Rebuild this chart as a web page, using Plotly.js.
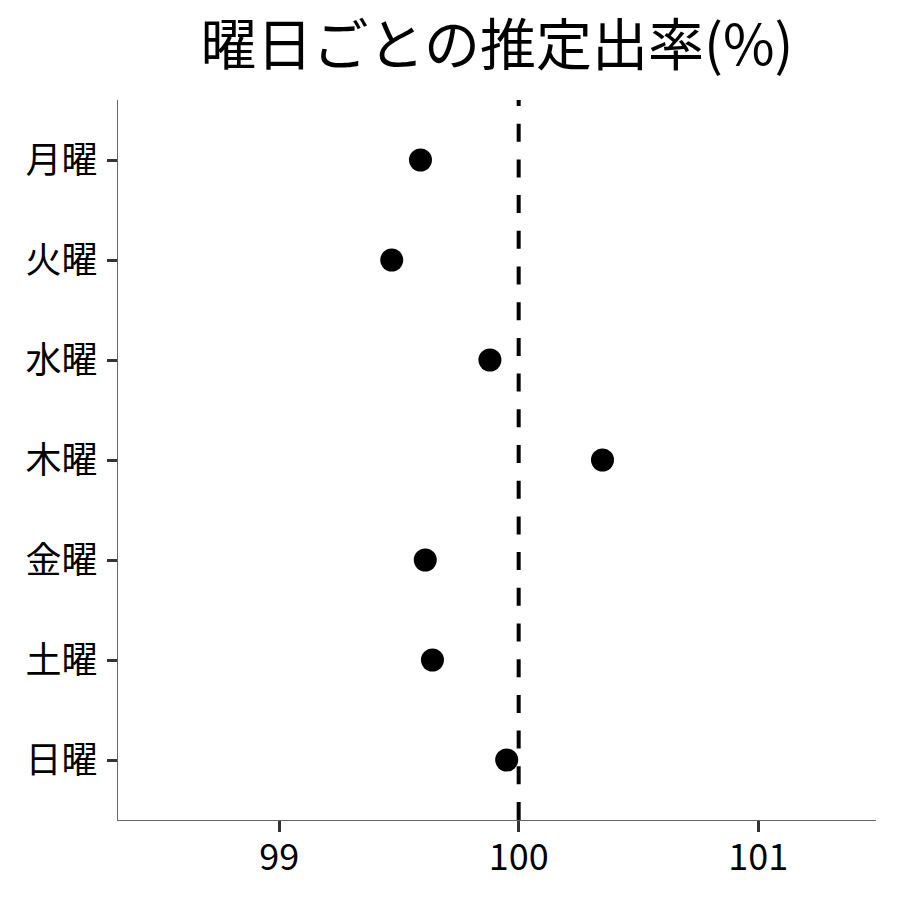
<!DOCTYPE html>
<html>
<head>
<meta charset="utf-8">
<script src="https://cdn.plot.ly/plotly-3.0.1.min.js"></script>
<style>
  html, body { margin: 0; padding: 0; background: #fff; }
  #chart { width: 900px; height: 900px; }
</style>
</head>
<body>
<div id="chart"></div>
<script>
const days = ["月曜", "火曜", "水曜", "木曜", "金曜", "土曜", "日曜"];
const rates = [99.59, 99.47, 99.88, 100.35, 99.61, 99.64, 99.95];
const refValue = 100;
const xTicks = [99, 100, 101];
const titleText = "曜日ごとの推定出率(%)";

const FONT = '"Noto Sans CJK JP", "Noto Sans", sans-serif';

const trace = {
  type: "scatter",
  mode: "markers",
  x: rates,
  y: days,
  marker: { color: "#000000", size: 23 },
  hoverinfo: "x+y"
};

const layout = {
  width: 900,
  height: 900,
  paper_bgcolor: "#ffffff",
  plot_bgcolor: "#ffffff",
  margin: { l: 118, r: 24, t: 100, b: 80 },
  showlegend: false,
  font: { family: FONT, color: "#000000" },
  title: {
    text: titleText,
    font: { family: FONT, size: 56, color: "#000000" },
    x: 0.5,
    xref: "paper",
    xanchor: "center",
    y: 0.95,
    yref: "container",
    yanchor: "middle"
  },
  xaxis: {
    range: [98.327, 101.492],
    tickvals: xTicks,
    ticktext: xTicks.map(String),
    showgrid: false,
    zeroline: false,
    showline: true,
    linecolor: "#666666",
    linewidth: 1.2,
    ticks: "outside",
    ticklen: 11,
    tickwidth: 3,
    tickcolor: "#333333",
    tickfont: { family: FONT, size: 36, color: "#000000" },
    ticklabelstandoff: -5,
    fixedrange: true
  },
  yaxis: {
    type: "category",
    categoryorder: "array",
    categoryarray: days,
    range: [6.6, -0.6],
    showgrid: false,
    zeroline: false,
    showline: true,
    linecolor: "#666666",
    linewidth: 1.2,
    ticks: "outside",
    ticklen: 10,
    tickwidth: 3,
    tickcolor: "#333333",
    tickfont: { family: FONT, size: 36, color: "#000000" },
    ticklabelstandoff: 2,
    fixedrange: true
  },
  shapes: [{
    type: "line",
    xref: "x",
    yref: "paper",
    x0: refValue, x1: refValue,
    y0: 0, y1: 1,
    line: { color: "#000000", width: 4, dash: "18px,17.7px" },
    layer: "below"
  }]
};

Plotly.newPlot("chart", [trace], layout, { displayModeBar: false, staticPlot: true });
</script>
</body>
</html>
